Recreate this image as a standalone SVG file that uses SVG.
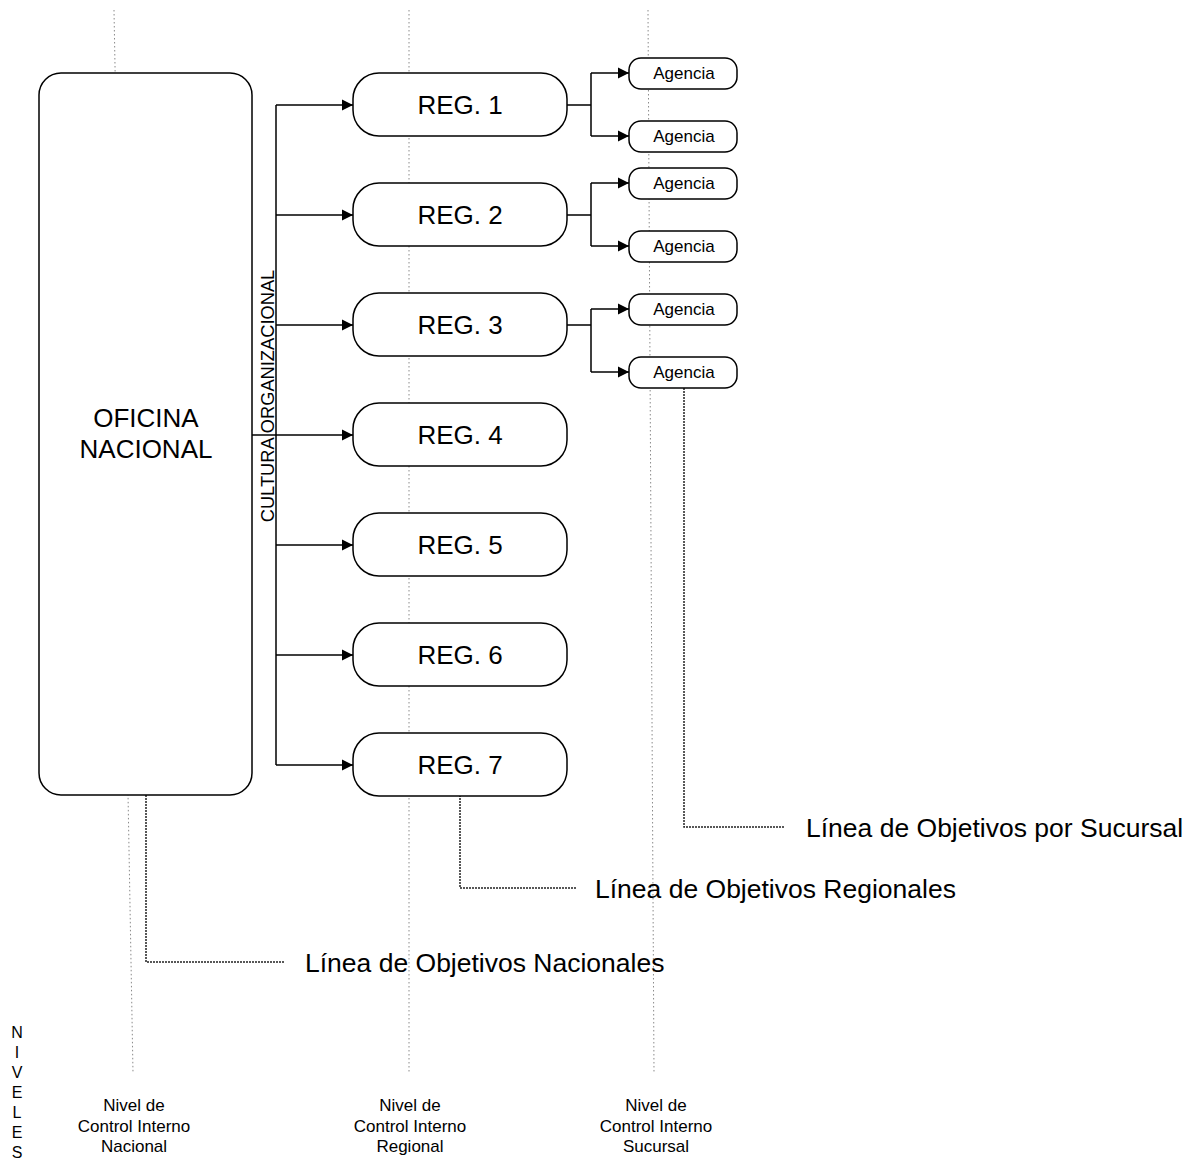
<svg xmlns="http://www.w3.org/2000/svg" width="1196" height="1164" viewBox="0 0 1196 1164">
  <style>
    text { font-family: "Liberation Sans", Arial, sans-serif; fill: #000; }
    .box { fill: #fff; stroke: #000; stroke-width: 1.5; }
    .big { font-size: 26px; text-anchor: middle; }
    .ag { font-size: 17px; text-anchor: middle; }
    .lbl { font-size: 17px; text-anchor: middle; }
    .lead { font-size: 26.5px; }
    .guide { fill: none; stroke: #8a8a8a; stroke-width: 1; stroke-dasharray: 1.5 2.5; }
    .leader { fill: none; stroke: #222; stroke-width: 1.5; stroke-dasharray: 2 1; }
    .conn { fill: none; stroke: #000; stroke-width: 1.5; }
    .arr { fill: none; stroke: #000; stroke-width: 1.5; marker-end: url(#ah); }
  </style>
  <defs>
    <marker id="ah" markerUnits="userSpaceOnUse" markerWidth="12" markerHeight="12" refX="11" refY="6" orient="auto">
      <path d="M0,0.5 L11,6 L0,11.5 Z" fill="#000"/>
    </marker>
  </defs>

  <rect width="1196" height="1164" fill="#fff"/>

  <!-- level guide lines -->
  <g id="guides">
    <line class="guide" x1="114" y1="10" x2="133" y2="1073"/>
    <line class="guide" x1="409" y1="10" x2="409" y2="1073"/>
    <line class="guide" x1="648" y1="10" x2="654" y2="1073"/>
  </g>

  <!-- objective leaders -->
  <g id="leaders">
    <path class="leader" d="M146,795 V962 H285"/>
    <path class="leader" d="M460,795 V888 H577"/>
    <path class="leader" d="M684,388 V827 H784"/>
  </g>

  <!-- connectors -->
  <g id="connectors">
    <path class="conn" d="M276,105 V765"/>
    <path class="arr" d="M276,105 H353"/>
    <path class="arr" d="M276,215 H353"/>
    <path class="arr" d="M276,325 H353"/>
    <path class="arr" d="M252,435 H353"/>
    <path class="arr" d="M276,545 H353"/>
    <path class="arr" d="M276,655 H353"/>
    <path class="arr" d="M276,765 H353"/>

    <path class="conn" d="M567,105 H591 M591,73 V136"/>
    <path class="arr" d="M591,73 H629"/>
    <path class="arr" d="M591,136 H629"/>

    <path class="conn" d="M567,215 H591 M591,183 V246"/>
    <path class="arr" d="M591,183 H629"/>
    <path class="arr" d="M591,246 H629"/>

    <path class="conn" d="M567,325 H591 M591,309 V372"/>
    <path class="arr" d="M591,309 H629"/>
    <path class="arr" d="M591,372 H629"/>
  </g>

  <!-- national office -->
  <g id="oficina">
    <rect class="box" x="39" y="73" width="213" height="722" rx="22"/>
    <text class="big" x="146" y="427">OFICINA</text>
    <text class="big" x="146" y="458">NACIONAL</text>
  </g>

  <g id="cultura">
    <text x="274" y="396" font-size="18.3" text-anchor="middle" transform="rotate(-90 274 396)">CULTURA ORGANIZACIONAL</text>
  </g>

  <!-- regional offices -->
  <g id="reg1"><rect class="box" x="353" y="73" width="214" height="63" rx="26"/><text class="big" x="460" y="114">REG. 1</text></g>
  <g id="reg2"><rect class="box" x="353" y="183" width="214" height="63" rx="26"/><text class="big" x="460" y="224">REG. 2</text></g>
  <g id="reg3"><rect class="box" x="353" y="293" width="214" height="63" rx="26"/><text class="big" x="460" y="334">REG. 3</text></g>
  <g id="reg4"><rect class="box" x="353" y="403" width="214" height="63" rx="26"/><text class="big" x="460" y="444">REG. 4</text></g>
  <g id="reg5"><rect class="box" x="353" y="513" width="214" height="63" rx="26"/><text class="big" x="460" y="554">REG. 5</text></g>
  <g id="reg6"><rect class="box" x="353" y="623" width="214" height="63" rx="26"/><text class="big" x="460" y="664">REG. 6</text></g>
  <g id="reg7"><rect class="box" x="353" y="733" width="214" height="63" rx="26"/><text class="big" x="460" y="774">REG. 7</text></g>

  <!-- branches -->
  <g id="ag1a"><rect class="box" x="629" y="58" width="108" height="31" rx="12"/><text class="ag" x="684" y="79">Agencia</text></g>
  <g id="ag1b"><rect class="box" x="629" y="121" width="108" height="31" rx="12"/><text class="ag" x="684" y="142">Agencia</text></g>
  <g id="ag2a"><rect class="box" x="629" y="168" width="108" height="31" rx="12"/><text class="ag" x="684" y="189">Agencia</text></g>
  <g id="ag2b"><rect class="box" x="629" y="231" width="108" height="31" rx="12"/><text class="ag" x="684" y="252">Agencia</text></g>
  <g id="ag3a"><rect class="box" x="629" y="294" width="108" height="31" rx="12"/><text class="ag" x="684" y="315">Agencia</text></g>
  <g id="ag3b"><rect class="box" x="629" y="357" width="108" height="31" rx="12"/><text class="ag" x="684" y="378">Agencia</text></g>

  <!-- objective labels -->
  <g id="obj-labels">
    <text class="lead" x="305" y="972">Línea de Objetivos Nacionales</text>
    <text class="lead" x="595" y="898">Línea de Objetivos Regionales</text>
    <text class="lead" x="806" y="837">Línea de Objetivos por Sucursal</text>
  </g>

  <!-- level labels -->
  <g id="niveles" font-size="16" text-anchor="middle">
    <text x="17" y="1038">N</text>
    <text x="17" y="1058">I</text>
    <text x="17" y="1078">V</text>
    <text x="17" y="1098">E</text>
    <text x="17" y="1118">L</text>
    <text x="17" y="1138">E</text>
    <text x="17" y="1158">S</text>
  </g>
  <g id="nivel-nacional">
    <text class="lbl" x="134" y="1111">Nivel de</text>
    <text class="lbl" x="134" y="1132">Control Interno</text>
    <text class="lbl" x="134" y="1152">Nacional</text>
  </g>
  <g id="nivel-regional">
    <text class="lbl" x="410" y="1111">Nivel de</text>
    <text class="lbl" x="410" y="1132">Control Interno</text>
    <text class="lbl" x="410" y="1152">Regional</text>
  </g>
  <g id="nivel-sucursal">
    <text class="lbl" x="656" y="1111">Nivel de</text>
    <text class="lbl" x="656" y="1132">Control Interno</text>
    <text class="lbl" x="656" y="1152">Sucursal</text>
  </g>
</svg>
